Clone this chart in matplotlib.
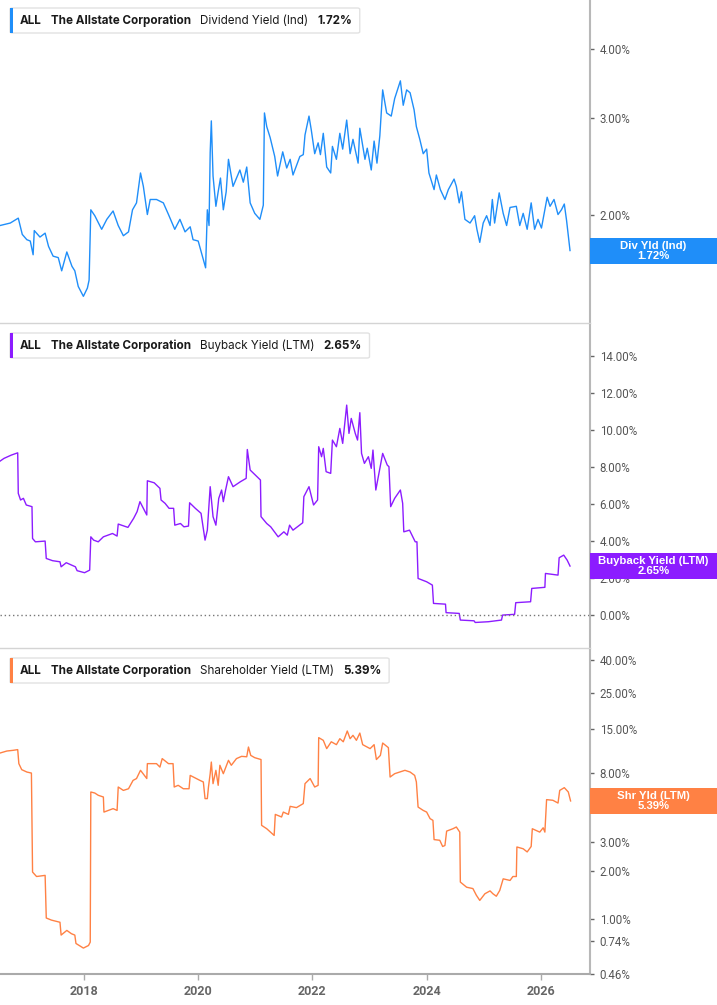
import numpy as np
import matplotlib.pyplot as plt
from matplotlib.patches import Rectangle, FancyBboxPatch

# Dividend yield (indicated), % -- time in decimal years
div_t = [2016.53, 2016.71, 2016.85, 2016.92, 2017.00, 2017.06, 2017.11, 2017.13, 2017.23, 2017.32,
         2017.38, 2017.46, 2017.55, 2017.61, 2017.70, 2017.79, 2017.84, 2017.90, 2017.99, 2018.06,
         2018.09, 2018.12, 2018.19, 2018.31, 2018.40, 2018.51, 2018.60, 2018.69, 2018.78, 2018.85,
         2018.92, 2018.99, 2019.04, 2019.11, 2019.16, 2019.27, 2019.39, 2019.48, 2019.59, 2019.68,
         2019.77, 2019.86, 2019.91, 2020.00, 2020.06, 2020.13, 2020.16, 2020.19, 2020.21, 2020.23,
         2020.26, 2020.31, 2020.35, 2020.39, 2020.44, 2020.49, 2020.53, 2020.61, 2020.73, 2020.79,
         2020.85, 2020.91, 2020.99, 2021.08, 2021.14, 2021.16, 2021.20, 2021.26, 2021.34, 2021.39,
         2021.48, 2021.55, 2021.61, 2021.66, 2021.78, 2021.84, 2021.87, 2021.94, 2021.98, 2022.04,
         2022.10, 2022.14, 2022.19, 2022.25, 2022.32, 2022.35, 2022.42, 2022.48, 2022.53, 2022.60,
         2022.66, 2022.71, 2022.80, 2022.83, 2022.92, 2022.96, 2023.03, 2023.08, 2023.13, 2023.18,
         2023.23, 2023.30, 2023.38, 2023.44, 2023.54, 2023.59, 2023.65, 2023.71, 2023.78, 2023.82,
         2023.88, 2023.94, 2024.00, 2024.04, 2024.13, 2024.17, 2024.24, 2024.32, 2024.38, 2024.48,
         2024.52, 2024.57, 2024.61, 2024.67, 2024.76, 2024.84, 2024.88, 2024.93, 2024.99, 2025.05,
         2025.11, 2025.15, 2025.19, 2025.27, 2025.34, 2025.40, 2025.46, 2025.57, 2025.63, 2025.69,
         2025.76, 2025.83, 2025.89, 2025.95, 2026.01, 2026.11, 2026.16, 2026.23, 2026.30, 2026.36,
         2026.41, 2026.45, 2026.51]
div_v = [1.91, 1.93, 1.97, 1.84, 1.80, 1.79, 1.69, 1.87, 1.82, 1.85,
         1.75, 1.68, 1.67, 1.58, 1.71, 1.61, 1.58, 1.48, 1.42, 1.47,
         1.52, 2.04, 1.99, 1.88, 1.96, 2.03, 1.91, 1.83, 1.86, 2.04,
         2.10, 2.38, 2.25, 2.00, 2.13, 2.13, 2.10, 2.00, 1.88, 1.96,
         1.86, 1.90, 1.80, 1.79, 1.70, 1.60, 2.04, 1.91, 2.59, 2.96,
         2.35, 2.07, 2.20, 2.33, 2.04, 2.20, 2.52, 2.25, 2.41, 2.29,
         2.44, 2.10, 2.01, 1.96, 2.08, 3.06, 2.89, 2.76, 2.55, 2.35,
         2.60, 2.43, 2.52, 2.36, 2.55, 2.57, 2.79, 3.02, 2.85, 2.58,
         2.70, 2.57, 2.81, 2.44, 2.38, 2.66, 2.52, 2.81, 2.63, 2.97,
         2.58, 2.74, 2.48, 2.87, 2.52, 2.64, 2.41, 2.72, 2.48, 2.78,
         3.37, 3.06, 3.02, 3.25, 3.50, 3.16, 3.37, 3.33, 3.10, 2.89,
         2.74, 2.58, 2.63, 2.38, 2.22, 2.36, 2.22, 2.13, 2.22, 2.32,
         2.25, 2.10, 2.20, 1.96, 1.93, 1.99, 1.88, 1.78, 1.93, 1.99,
         1.91, 2.13, 1.93, 2.19, 2.01, 1.91, 2.06, 2.07, 1.91, 2.01,
         1.88, 2.10, 1.88, 1.96, 1.89, 2.15, 2.07, 2.13, 2.00, 2.04,
         2.09, 1.95, 1.72]

# Buyback yield (LTM), %
bb_t = [2016.53, 2016.60, 2016.73, 2016.84, 2016.85, 2016.89, 2016.94, 2016.99, 2017.09, 2017.10,
        2017.15, 2017.32, 2017.34, 2017.45, 2017.58, 2017.60, 2017.69, 2017.85, 2017.88, 2018.01,
        2018.10, 2018.12, 2018.17, 2018.25, 2018.34, 2018.50, 2018.58, 2018.60, 2018.77, 2018.87,
        2018.93, 2018.98, 2019.10, 2019.11, 2019.23, 2019.33, 2019.35, 2019.42, 2019.49, 2019.57,
        2019.59, 2019.69, 2019.75, 2019.83, 2019.85, 2019.95, 2020.05, 2020.12, 2020.16, 2020.21,
        2020.26, 2020.31, 2020.36, 2020.41, 2020.44, 2020.48, 2020.53, 2020.61, 2020.74, 2020.84,
        2020.86, 2020.91, 2021.00, 2021.09, 2021.10, 2021.20, 2021.27, 2021.40, 2021.50, 2021.56,
        2021.60, 2021.66, 2021.83, 2021.85, 2021.94, 2022.02, 2022.09, 2022.11, 2022.16, 2022.19,
        2022.24, 2022.32, 2022.35, 2022.42, 2022.48, 2022.53, 2022.60, 2022.64, 2022.68, 2022.75,
        2022.79, 2022.83, 2022.86, 2022.91, 2022.98, 2023.03, 2023.06, 2023.11, 2023.23, 2023.31,
        2023.34, 2023.37, 2023.44, 2023.54, 2023.58, 2023.60, 2023.70, 2023.80, 2023.83, 2023.85,
        2024.00, 2024.10, 2024.12, 2024.33, 2024.34, 2024.57, 2024.59, 2024.83, 2024.85, 2025.08,
        2025.31, 2025.33, 2025.54, 2025.56, 2025.82, 2025.84, 2026.07, 2026.08, 2026.30, 2026.32,
        2026.40, 2026.46, 2026.51]
bb_v = [8.32, 8.47, 8.65, 8.77, 6.58, 6.22, 6.31, 5.95, 5.86, 4.14,
        3.96, 4.00, 3.06, 2.94, 2.88, 2.61, 2.83, 2.61, 2.40, 2.29,
        2.43, 4.23, 4.05, 3.96, 4.23, 4.41, 4.27, 4.92, 4.74, 5.23,
        5.59, 6.13, 5.41, 7.26, 7.15, 6.85, 6.22, 6.04, 5.77, 5.77,
        4.86, 4.95, 4.77, 4.81, 6.07, 5.77, 5.50, 4.05, 4.59, 6.94,
        5.32, 4.86, 6.31, 6.76, 6.13, 6.76, 7.48, 6.94, 7.21, 7.39,
        8.95, 7.84, 7.57, 7.30, 5.32, 4.95, 4.77, 4.23, 4.50, 4.32,
        4.86, 4.59, 4.99, 6.40, 6.94, 5.95, 6.22, 9.10, 8.56, 9.01,
        7.75, 7.66, 9.46, 9.10, 10.09, 9.28, 11.35, 9.82, 10.63, 9.82,
        9.46, 10.94, 8.74, 8.20, 8.56, 7.93, 8.92, 6.76, 8.74, 8.11,
        8.02, 5.86, 6.31, 6.76, 6.04, 4.50, 4.59, 3.96, 3.96, 1.98,
        1.80, 1.62, 0.63, 0.59, 0.13, 0.09, -0.27, -0.31, -0.40, -0.36,
        -0.27, 0.00, 0.04, 0.67, 0.72, 1.44, 1.50, 2.25, 2.16, 3.10,
        3.24, 2.97, 2.65]

# Shareholder yield (LTM), %
sh_t = [2016.53, 2016.65, 2016.76, 2016.84, 2016.86, 2016.91, 2017.00, 2017.08, 2017.10, 2017.17,
        2017.32, 2017.34, 2017.43, 2017.58, 2017.60, 2017.70, 2017.78, 2017.84, 2017.86, 2017.99,
        2018.08, 2018.11, 2018.12, 2018.19, 2018.25, 2018.34, 2018.35, 2018.51, 2018.58, 2018.60,
        2018.69, 2018.78, 2018.86, 2018.92, 2018.99, 2019.10, 2019.11, 2019.27, 2019.33, 2019.37,
        2019.48, 2019.56, 2019.58, 2019.65, 2019.74, 2019.84, 2019.86, 2020.03, 2020.09, 2020.12,
        2020.16, 2020.18, 2020.21, 2020.23, 2020.26, 2020.31, 2020.35, 2020.38, 2020.44, 2020.53,
        2020.58, 2020.67, 2020.76, 2020.85, 2020.88, 2020.92, 2020.99, 2021.10, 2021.11, 2021.20,
        2021.33, 2021.35, 2021.46, 2021.49, 2021.58, 2021.61, 2021.72, 2021.84, 2021.87, 2021.96,
        2022.04, 2022.10, 2022.11, 2022.19, 2022.25, 2022.33, 2022.42, 2022.48, 2022.54, 2022.61,
        2022.66, 2022.71, 2022.77, 2022.83, 2022.88, 2023.01, 2023.08, 2023.12, 2023.19, 2023.23,
        2023.33, 2023.36, 2023.44, 2023.53, 2023.62, 2023.71, 2023.79, 2023.82, 2023.85, 2023.94,
        2024.00, 2024.06, 2024.11, 2024.13, 2024.23, 2024.28, 2024.32, 2024.35, 2024.46, 2024.52,
        2024.58, 2024.59, 2024.70, 2024.81, 2024.87, 2024.93, 2025.02, 2025.11, 2025.16, 2025.22,
        2025.28, 2025.34, 2025.46, 2025.51, 2025.57, 2025.58, 2025.69, 2025.76, 2025.83, 2025.85,
        2025.98, 2026.04, 2026.07, 2026.10, 2026.21, 2026.30, 2026.33, 2026.41, 2026.48, 2026.52]
sh_v = [10.65, 10.96, 11.07, 11.18, 9.16, 8.41, 8.13, 8.01, 1.96, 1.84,
        1.87, 1.02, 0.99, 0.96, 0.80, 0.855, 0.816, 0.80, 0.71, 0.665,
        0.69, 0.724, 6.12, 6.03, 5.84, 5.70, 4.60, 4.83, 4.71, 6.57,
        6.26, 6.41, 7.22, 7.41, 8.33, 7.41, 9.16, 9.16, 8.72, 9.84,
        9.16, 9.16, 6.57, 6.73, 6.41, 6.41, 7.75, 7.22, 7.06, 5.57,
        5.57, 6.57, 7.94, 9.37, 6.89, 8.33, 6.73, 8.95, 7.94, 9.60,
        8.95, 9.84, 10.16, 10.10, 11.60, 10.30, 9.97, 9.71, 3.81, 3.63,
        3.30, 4.45, 4.29, 4.60, 4.45, 4.99, 4.90, 5.19, 6.89, 7.41,
        6.57, 6.73, 13.26, 12.76, 11.34, 12.50, 12.00, 13.06, 12.50, 14.57,
        13.06, 13.70, 12.76, 14.15, 12.00, 11.34, 12.00, 9.71, 10.30, 12.28,
        11.50, 7.57, 7.94, 8.13, 8.33, 8.13, 7.75, 7.06, 4.94, 4.71,
        4.60, 4.19, 4.09, 3.11, 3.08, 2.82, 2.86, 3.51, 3.63, 3.72,
        3.46, 1.70, 1.58, 1.55, 1.41, 1.31, 1.44, 1.50, 1.44, 1.39,
        1.51, 1.78, 1.74, 1.84, 1.84, 2.80, 2.73, 2.61, 2.82, 3.63,
        3.46, 3.68, 3.46, 5.49, 5.44, 5.23, 6.26, 6.51, 6.12, 5.39]

year_ticks = [2018, 2020, 2022, 2024, 2026]
div_ticks = [2, 3, 4]
bb_ticks = [0, 2, 4, 6, 8, 10, 12, 14]
sh_ticks = [0.46, 0.74, 1, 2, 3, 6, 8, 15, 25, 40]

BLUE = "#1f8ef9"
PURPLE = "#8c1cff"
ORANGE = "#ff8144"

W, H = 717, 1005
fig = plt.figure(figsize=(W / 100, H / 100), dpi=100)


def make_ax(top_px, bot_px):
    return fig.add_axes([0, 1 - bot_px / H, 590 / W, (bot_px - top_px) / H])


ax1 = make_ax(0, 323)
ax2 = make_ax(325, 648)
ax3 = make_ax(650, 974)

ax1.plot(div_t, div_v, color=BLUE, lw=1.0)
ax2.plot(bb_t, bb_v, color=PURPLE, lw=1.0)
ax2.axhline(0, color="#777777", lw=1, ls=(0, (1, 2)))
ax3.plot(sh_t, sh_v, color=ORANGE, lw=1.0)

ax1.set_yscale("log")
ax1.set_ylim(1.27, 4.91)
ax2.set_ylim(-1.78, 15.68)
ax3.set_yscale("log")
ax3.set_ylim(0.46, 46.1)

for ax, ticks in [(ax1, div_ticks), (ax2, bb_ticks), (ax3, sh_ticks)]:
    ax.set_xlim(2016.53, 2026.86)
    ax.yaxis.tick_right()
    ax.set_yticks(ticks)
    ax.yaxis.set_minor_locator(plt.NullLocator())
    ax.set_yticklabels([f"{t:.2f}%" for t in ticks])
    ax.tick_params(axis="y", direction="out", length=3, width=1, color="#666666",
                   labelcolor="#555555", labelsize=8.3, pad=4)
    for lab in ax.get_yticklabels():
        lab.set_fontfamily("Roboto")
    ax.spines["top"].set_visible(False)
    ax.spines["left"].set_visible(False)
    ax.spines["right"].set_color("#b8b8b8")
    ax.spines["right"].set_linewidth(1.5)
    ax.spines["bottom"].set_color("#d4d4d4")
    ax.spines["bottom"].set_linewidth(1)

for ax in (ax1, ax2):
    ax.set_xticks([])

ax3.spines["bottom"].set_color("#aaaaaa")
ax3.spines["bottom"].set_linewidth(1.5)
ax3.set_xticks(year_ticks)
ax3.set_xticklabels([str(y) for y in year_ticks])
ax3.tick_params(axis="x", direction="out", length=4, width=1, color="#aaaaaa",
                labelcolor="#666666", labelsize=9, pad=4)
for lab in ax3.get_xticklabels():
    lab.set_fontfamily("Roboto")
    lab.set_fontweight("bold")

fig.canvas.draw()
renderer = fig.canvas.get_renderer()


def header(ax, color, metric, value):
    kw = dict(fontsize=8.4, color="#1a1a1a", va="center", family="Inter")
    t = ax.annotate("ALL", xy=(0, 1), xycoords="axes fraction", xytext=(20, -21),
                    textcoords="offset pixels", fontweight="bold", zorder=7, **kw)
    texts = [t]
    for s, wgt in [("The Allstate Corporation", "bold"), (metric, "normal"), (value, "bold")]:
        t = ax.annotate(s, xy=(1, 0.5), xycoords=t, xytext=(9, 0),
                        textcoords="offset pixels", fontweight=wgt, zorder=7, **kw)
        texts.append(t)
    fig.canvas.draw()
    x_end = texts[-1].get_window_extent(renderer).x1
    inv = ax.transAxes.inverted()
    top = ax.transAxes.transform((0, 1))
    (x0, y0) = inv.transform((top[0] + 10, top[1] - 33))
    (x1, y1) = inv.transform((x_end + 8, top[1] - 8))
    box = FancyBboxPatch((x0, y0), x1 - x0, y1 - y0, transform=ax.transAxes,
                         boxstyle="round,pad=0,rounding_size=0.004", fc="white",
                         ec="#e2e2e2", lw=1, zorder=6, clip_on=False)
    ax.add_patch(box)
    (bx1, _) = inv.transform((top[0] + 13, 0))
    ax.add_patch(Rectangle((x0, y0), bx1 - x0, y1 - y0, transform=ax.transAxes,
                           fc=color, ec="none", zorder=6.5, clip_on=False))


def value_box(ax, color, label, t_last, v_last):
    inv = ax.transAxes.inverted()
    ypx = ax.transData.transform((t_last, v_last))[1]
    rpx = ax.transAxes.transform((1, 0))[0]
    (_, ya) = inv.transform((0, ypx - 13))
    (_, yb) = inv.transform((0, ypx + 13))
    (xr, _) = inv.transform((rpx + 200, 0))
    ax.add_patch(Rectangle((1, ya), xr - 1, yb - ya, transform=ax.transAxes,
                           fc=color, ec="none", zorder=8, clip_on=False))
    (xc, yc) = inv.transform((rpx + 63.5, ypx))
    ax.text(xc, yc, f"{label}\n{v_last:.2f}%", transform=ax.transAxes, ha="center",
            va="center", color="white", fontsize=8.2, fontweight="bold",
            family="Liberation Sans", linespacing=1.0, zorder=9, clip_on=False)


header(ax1, BLUE, "Dividend Yield (Ind)", "1.72%")
header(ax2, PURPLE, "Buyback Yield (LTM)", "2.65%")
header(ax3, ORANGE, "Shareholder Yield (LTM)", "5.39%")

value_box(ax1, BLUE, "Div Yld (Ind)", div_t[-1], div_v[-1])
value_box(ax2, PURPLE, "Buyback Yield (LTM)", bb_t[-1], bb_v[-1])
value_box(ax3, ORANGE, "Shr Yld (LTM)", sh_t[-1], sh_v[-1])

fig.savefig("out.png", dpi=100)
